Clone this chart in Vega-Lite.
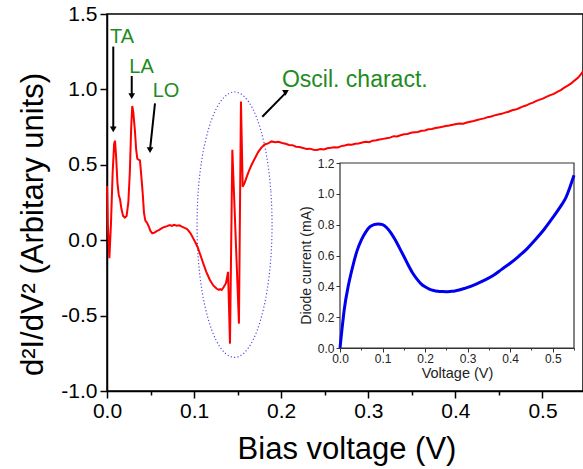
{
  "$schema": "https://vega.github.io/schema/vega-lite/v6.json",
  "width": 476,
  "height": 377,
  "autosize": {"type": "none"},
  "padding": {"left": 107, "top": 14, "right": 0, "bottom": 78},
  "config": {
    "font": "Liberation Sans",
    "view": {"stroke": "black", "strokeWidth": 1.5},
    "axis": {"grid": false, "labelFlush": false, "labelOverlap": false, "labelBound": false, "titleFontWeight": "normal", "domainColor": "black", "tickColor": "black", "labelColor": "black", "titleColor": "black"}
  },
  "datasets": {
    "main": [
      {"v":0.0000,"d":0.36},{"v":0.0010,"d":0.10},{"v":0.0027,"d":-0.12},{"v":0.0045,"d":0.10},{"v":0.0065,"d":0.45},
      {"v":0.0082,"d":0.64},{"v":0.0092,"d":0.66},{"v":0.0105,"d":0.55},{"v":0.0120,"d":0.38},{"v":0.0135,"d":0.30},
      {"v":0.0150,"d":0.27},{"v":0.0165,"d":0.21},{"v":0.0185,"d":0.16},{"v":0.0205,"d":0.15},{"v":0.0225,"d":0.16},
      {"v":0.0245,"d":0.25},{"v":0.0262,"d":0.45},{"v":0.0278,"d":0.75},{"v":0.0290,"d":0.89},{"v":0.0302,"d":0.85},
      {"v":0.0320,"d":0.73},{"v":0.0335,"d":0.60},{"v":0.0348,"d":0.54},{"v":0.0362,"d":0.535},{"v":0.0378,"d":0.53},
      {"v":0.0392,"d":0.44},{"v":0.0410,"d":0.31},{"v":0.0425,"d":0.18},{"v":0.0440,"d":0.13},{"v":0.0460,"d":0.115},
      {"v":0.0480,"d":0.09},{"v":0.0500,"d":0.06},{"v":0.0520,"d":0.045},{"v":0.0545,"d":0.05},{"v":0.0570,"d":0.06},
      {"v":0.0600,"d":0.068},{"v":0.0630,"d":0.080},{"v":0.0660,"d":0.088},{"v":0.0690,"d":0.093},{"v":0.0720,"d":0.100},
      {"v":0.0745,"d":0.095},{"v":0.0770,"d":0.102},{"v":0.0800,"d":0.096},{"v":0.0830,"d":0.099},{"v":0.0860,"d":0.090},
      {"v":0.0890,"d":0.082},{"v":0.0915,"d":0.076},{"v":0.0940,"d":0.060},{"v":0.0965,"d":0.040},{"v":0.0990,"d":0.012},
      {"v":0.1015,"d":-0.015},{"v":0.1040,"d":-0.045},{"v":0.1060,"d":-0.078},{"v":0.1085,"d":-0.12},{"v":0.1106,"d":-0.155},
      {"v":0.1140,"d":-0.21},{"v":0.1180,"d":-0.262},{"v":0.1220,"d":-0.30},{"v":0.1260,"d":-0.322},{"v":0.1285,"d":-0.330},
      {"v":0.1300,"d":-0.325},{"v":0.1317,"d":-0.33},{"v":0.1340,"d":-0.31},{"v":0.1366,"d":-0.285},{"v":0.1390,"d":-0.21},
      {"v":0.1412,"d":-0.686},{"v":0.1439,"d":0.60},{"v":0.1515,"d":-0.553},{"v":0.1538,"d":0.92},{"v":0.1558,"d":0.354},
      {"v":0.1580,"d":0.38},{"v":0.1604,"d":0.42},{"v":0.1630,"d":0.46},{"v":0.1660,"d":0.50},{"v":0.1700,"d":0.545},
      {"v":0.1737,"d":0.586},{"v":0.1770,"d":0.612},{"v":0.1810,"d":0.635},{"v":0.1850,"d":0.642},{"v":0.1890,"d":0.655},
      {"v":0.1930,"d":0.650},{"v":0.1970,"d":0.652},{"v":0.2010,"d":0.645},{"v":0.2050,"d":0.640},{"v":0.2090,"d":0.632},
      {"v":0.2130,"d":0.630},{"v":0.2170,"d":0.620},{"v":0.2210,"d":0.618},{"v":0.2250,"d":0.612},{"v":0.2290,"d":0.605},
      {"v":0.2330,"d":0.607},{"v":0.2370,"d":0.600},{"v":0.2410,"d":0.598},{"v":0.2450,"d":0.604},{"v":0.2490,"d":0.602},
      {"v":0.2530,"d":0.610},{"v":0.2570,"d":0.613},{"v":0.2610,"d":0.617},{"v":0.2650,"d":0.615},{"v":0.2690,"d":0.624},
      {"v":0.2730,"d":0.628},{"v":0.2770,"d":0.634},{"v":0.2810,"d":0.633},{"v":0.2850,"d":0.640},{"v":0.2890,"d":0.641},
      {"v":0.2930,"d":0.648},{"v":0.2970,"d":0.652},{"v":0.3010,"d":0.650},{"v":0.3050,"d":0.660},{"v":0.3090,"d":0.663},
      {"v":0.3130,"d":0.668},{"v":0.3170,"d":0.672},{"v":0.3210,"d":0.676},{"v":0.3250,"d":0.680},{"v":0.3290,"d":0.690},
      {"v":0.3330,"d":0.688},{"v":0.3370,"d":0.696},{"v":0.3410,"d":0.702},{"v":0.3450,"d":0.704},{"v":0.3490,"d":0.712},
      {"v":0.3530,"d":0.716},{"v":0.3570,"d":0.718},{"v":0.3610,"d":0.726},{"v":0.3650,"d":0.728},{"v":0.3690,"d":0.735},
      {"v":0.3730,"d":0.737},{"v":0.3770,"d":0.744},{"v":0.3810,"d":0.748},{"v":0.3850,"d":0.752},{"v":0.3890,"d":0.757},
      {"v":0.3930,"d":0.760},{"v":0.3970,"d":0.766},{"v":0.4010,"d":0.770},{"v":0.4050,"d":0.774},{"v":0.4090,"d":0.772},
      {"v":0.4130,"d":0.780},{"v":0.4170,"d":0.786},{"v":0.4210,"d":0.791},{"v":0.4250,"d":0.797},{"v":0.4290,"d":0.803},
      {"v":0.4330,"d":0.808},{"v":0.4370,"d":0.816},{"v":0.4410,"d":0.820},{"v":0.4450,"d":0.828},{"v":0.4490,"d":0.834},
      {"v":0.4530,"d":0.838},{"v":0.4570,"d":0.846},{"v":0.4610,"d":0.852},{"v":0.4650,"d":0.862},{"v":0.4690,"d":0.866},
      {"v":0.4730,"d":0.875},{"v":0.4770,"d":0.886},{"v":0.4810,"d":0.893},{"v":0.4850,"d":0.904},{"v":0.4890,"d":0.912},
      {"v":0.4930,"d":0.924},{"v":0.4970,"d":0.932},{"v":0.5010,"d":0.940},{"v":0.5050,"d":0.952},{"v":0.5090,"d":0.962},
      {"v":0.5130,"d":0.970},{"v":0.5170,"d":0.984},{"v":0.5210,"d":0.995},{"v":0.5250,"d":1.012},{"v":0.5290,"d":1.025},
      {"v":0.5330,"d":1.040},{"v":0.5370,"d":1.060},{"v":0.5410,"d":1.078},{"v":0.5440,"d":1.100},{"v":0.5465,"d":1.120}
    ],
    "ellipse": [
      {"k":0,"x":0.1895,"y":0.103},{"k":1,"x":0.1880,"y":0.3308},{"k":2,"x":0.1837,"y":0.543},{"k":3,"x":0.1768,"y":0.7253},
      {"k":4,"x":0.1679,"y":0.8651},{"k":5,"x":0.1575,"y":0.9530},{"k":6,"x":0.1464,"y":0.983},{"k":7,"x":0.1353,"y":0.9530},
      {"k":8,"x":0.1249,"y":0.8651},{"k":9,"x":0.1160,"y":0.7253},{"k":10,"x":0.1091,"y":0.543},{"k":11,"x":0.1048,"y":0.3308},
      {"k":12,"x":0.1034,"y":0.103},{"k":13,"x":0.1048,"y":-0.1248},{"k":14,"x":0.1091,"y":-0.337},{"k":15,"x":0.1160,"y":-0.5193},
      {"k":16,"x":0.1249,"y":-0.6591},{"k":17,"x":0.1353,"y":-0.7470},{"k":18,"x":0.1464,"y":-0.777},{"k":19,"x":0.1575,"y":-0.7470},
      {"k":20,"x":0.1679,"y":-0.6591},{"k":21,"x":0.1768,"y":-0.5193},{"k":22,"x":0.1837,"y":-0.337},{"k":23,"x":0.1880,"y":-0.1248}
    ],
    "labels": [
      {"x":0.0034,"y":1.31,"t":"TA","g":"a"},
      {"x":0.0256,"y":1.111,"t":"LA","g":"a"},
      {"x":0.0525,"y":0.948,"t":"LO","g":"a"},
      {"x":0.2009,"y":1.013,"t":"Oscil. charact.","g":"b"}
    ],
    "arrows": [
      {"x":0.0072,"y":1.284,"xe":0.0072,"ye":0.74},
      {"x":0.0284,"y":1.089,"xe":0.0284,"ye":0.96},
      {"x":0.0551,"y":0.908,"xe":0.0494,"ye":0.60},
      {"x":0.1783,"y":0.819,"xe":0.2049,"ye":0.975}
    ],
    "heads": [
      {"n":"TA","x":0.0072,"y":0.735},
      {"n":"LA","x":0.0284,"y":0.955},
      {"n":"LO","x":0.0494,"y":0.597},
      {"n":"OS","x":0.2049,"y":0.977}
    ],
    "inset": [
      {"v":0.000,"i":0.0},{"v":0.005,"i":0.13},{"v":0.010,"i":0.25},{"v":0.020,"i":0.41},{"v":0.030,"i":0.53},
      {"v":0.040,"i":0.63},{"v":0.050,"i":0.70},{"v":0.060,"i":0.75},{"v":0.070,"i":0.785},{"v":0.080,"i":0.80},
      {"v":0.090,"i":0.805},{"v":0.100,"i":0.80},{"v":0.110,"i":0.78},{"v":0.120,"i":0.745},{"v":0.130,"i":0.70},
      {"v":0.140,"i":0.648},{"v":0.150,"i":0.595},{"v":0.160,"i":0.54},{"v":0.170,"i":0.49},{"v":0.180,"i":0.45},
      {"v":0.190,"i":0.418},{"v":0.200,"i":0.397},{"v":0.210,"i":0.382},{"v":0.220,"i":0.373},{"v":0.230,"i":0.368},
      {"v":0.240,"i":0.366},{"v":0.250,"i":0.365},{"v":0.260,"i":0.367},{"v":0.270,"i":0.370},{"v":0.280,"i":0.376},
      {"v":0.290,"i":0.384},{"v":0.300,"i":0.393},{"v":0.320,"i":0.415},{"v":0.340,"i":0.44},{"v":0.360,"i":0.47},
      {"v":0.380,"i":0.51},{"v":0.400,"i":0.55},{"v":0.420,"i":0.595},{"v":0.440,"i":0.645},{"v":0.460,"i":0.705},
      {"v":0.480,"i":0.77},{"v":0.500,"i":0.845},{"v":0.520,"i":0.925},{"v":0.530,"i":0.97},{"v":0.540,"i":1.04},
      {"v":0.550,"i":1.12}
    ],
    "frame": [{"x0":0,"x1":0.55,"y0":0,"y1":1.2}]
  },
  "layer": [
    {
      "layer": [
        {
          "data": {"name": "ellipse"},
          "mark": {"type": "line", "interpolate": "cardinal-closed", "color": "#5050e8", "strokeWidth": 1.2, "strokeDash": [1.2, 2.2]},
          "encoding": {
            "x": {"field": "x", "type": "quantitative"},
            "y": {"field": "y", "type": "quantitative"},
            "order": {"field": "k", "type": "quantitative"}
          }
        },
        {
          "data": {"name": "main"},
          "mark": {"type": "line", "color": "#ff0000", "strokeWidth": 2},
          "encoding": {
            "x": {
              "field": "v", "type": "quantitative",
              "scale": {"domain": [0, 0.5465], "nice": false, "zero": false},
              "axis": {
                "title": "Bias voltage (V)",
                "values": [0, 0.05, 0.1, 0.15, 0.2, 0.25, 0.3, 0.35, 0.4, 0.45, 0.5],
                "labelExpr": "abs(datum.value*10 - round(datum.value*10)) > 0.01 ? '' : format(datum.value, '.1f')",
                "tickSize": {"condition": {"test": "abs(datum.value*10 - round(datum.value*10)) > 0.01", "value": 4}, "value": 7},
                "tickWidth": 1.5, "domainWidth": 1.5,
                "labelFontSize": 21, "labelPadding": 2,
                "titleFontSize": 31, "titleX": 239.5, "titleY": 67, "titleBaseline": "alphabetic", "titleAlign": "center"
              }
            },
            "y": {
              "field": "d", "type": "quantitative",
              "scale": {"domain": [-1, 1.5], "nice": false, "zero": false},
              "axis": {
                "title": "d²I/dV² (Arbitary units)",
                "values": [-1, -0.75, -0.5, -0.25, 0, 0.25, 0.5, 0.75, 1, 1.25, 1.5],
                "labelExpr": "abs(datum.value*2 - round(datum.value*2)) > 0.01 ? '' : replace(format(datum.value, '.1f'), '\u2212', '-')",
                "tickSize": {"condition": {"test": "abs(datum.value*2 - round(datum.value*2)) > 0.01", "value": 4}, "value": 7},
                "tickWidth": 1.5, "domainWidth": 1.5,
                "labelFontSize": 21, "labelPadding": 3,
                "titleFontSize": 31, "titleX": -74, "titleY": 210, "titleAngle": -90, "titleAlign": "center", "titleBaseline": "middle"
              }
            }
          }
        },
        {
          "data": {"name": "arrows"},
          "mark": {"type": "rule", "color": "black", "strokeWidth": 2},
          "encoding": {
            "x": {"field": "x", "type": "quantitative"},
            "y": {"field": "y", "type": "quantitative"},
            "x2": {"field": "xe"},
            "y2": {"field": "ye"}
          }
        },
        {
          "data": {"name": "heads"},
          "mark": {"type": "point", "shape": "triangle-up", "filled": true, "color": "black", "size": 45, "opacity": 1},
          "encoding": {
            "x": {"field": "x", "type": "quantitative"},
            "y": {"field": "y", "type": "quantitative"},
            "angle": {"field": "n", "type": "nominal", "scale": {"domain": ["TA", "LA", "LO", "OS"], "range": [180, 180, 192, 44]}, "legend": null}
          }
        },
        {
          "data": {"name": "labels"},
          "transform": [{"filter": "datum.g == 'a'"}],
          "mark": {"type": "text", "align": "left", "baseline": "alphabetic", "fontSize": 20, "color": "#1e8c1e"},
          "encoding": {
            "x": {"field": "x", "type": "quantitative"},
            "y": {"field": "y", "type": "quantitative"},
            "text": {"field": "t"}
          }
        },
        {
          "data": {"name": "labels"},
          "transform": [{"filter": "datum.g == 'b'"}],
          "mark": {"type": "text", "align": "left", "baseline": "alphabetic", "fontSize": 23, "color": "#1e8c1e"},
          "encoding": {
            "x": {"field": "x", "type": "quantitative"},
            "y": {"field": "y", "type": "quantitative"},
            "text": {"field": "t"}
          }
        }
      ]
    },
    {
      "layer": [
        {
          "data": {"name": "frame"},
          "mark": {"type": "rect", "fill": "white", "stroke": "#333333", "strokeWidth": 1.2},
          "encoding": {
            "x": {"field": "x0", "type": "quantitative"},
            "x2": {"field": "x1"},
            "y": {"field": "y0", "type": "quantitative"},
            "y2": {"field": "y1"}
          }
        },
        {
          "data": {"name": "inset"},
          "mark": {"type": "line", "interpolate": "monotone", "color": "#0000ee", "strokeWidth": 3},
          "encoding": {
            "x": {
              "field": "v", "type": "quantitative",
              "scale": {"domain": [0, 0.55], "range": [233, 467], "nice": false, "zero": false},
              "axis": {
                "orient": "bottom", "offset": -43,
                "title": "Voltage (V)",
                "values": [0, 0.05, 0.1, 0.15, 0.2, 0.25, 0.3, 0.35, 0.4, 0.45, 0.5, 0.55],
                "labelExpr": "abs(datum.value*10 - round(datum.value*10)) > 0.01 ? '' : format(datum.value, '.1f')",
                "tickSize": {"condition": {"test": "abs(datum.value*10 - round(datum.value*10)) > 0.01", "value": 2}, "value": 4},
                "domainColor": "#333333", "tickColor": "#333333", "labelColor": "#222222",
                "labelFontSize": 12, "labelPadding": 1,
                "titleFontSize": 14.5, "titlePadding": 2, "titleColor": "#222222"
              }
            },
            "y": {
              "field": "i", "type": "quantitative",
              "scale": {"domain": [0, 1.2], "range": [334, 149], "nice": false, "zero": false},
              "axis": {
                "orient": "left", "offset": -233,
                "title": "Diode current (mA)",
                "values": [0, 0.1, 0.2, 0.3, 0.4, 0.5, 0.6, 0.7, 0.8, 0.9, 1.0, 1.1, 1.2],
                "labelExpr": "abs(datum.value*5 - round(datum.value*5)) > 0.01 ? '' : format(datum.value, '.1f')",
                "tickSize": {"condition": {"test": "abs(datum.value*5 - round(datum.value*5)) > 0.01", "value": 2}, "value": 4},
                "domainColor": "#333333", "tickColor": "#333333", "labelColor": "#222222",
                "labelFontSize": 12, "labelPadding": 2,
                "titleFontSize": 14, "titlePadding": 4, "titleColor": "#222222", "titleY": 251
              }
            }
          }
        }
      ]
    }
  ],
  "resolve": {"scale": {"x": "independent", "y": "independent"}, "axis": {"x": "independent", "y": "independent"}}
}
